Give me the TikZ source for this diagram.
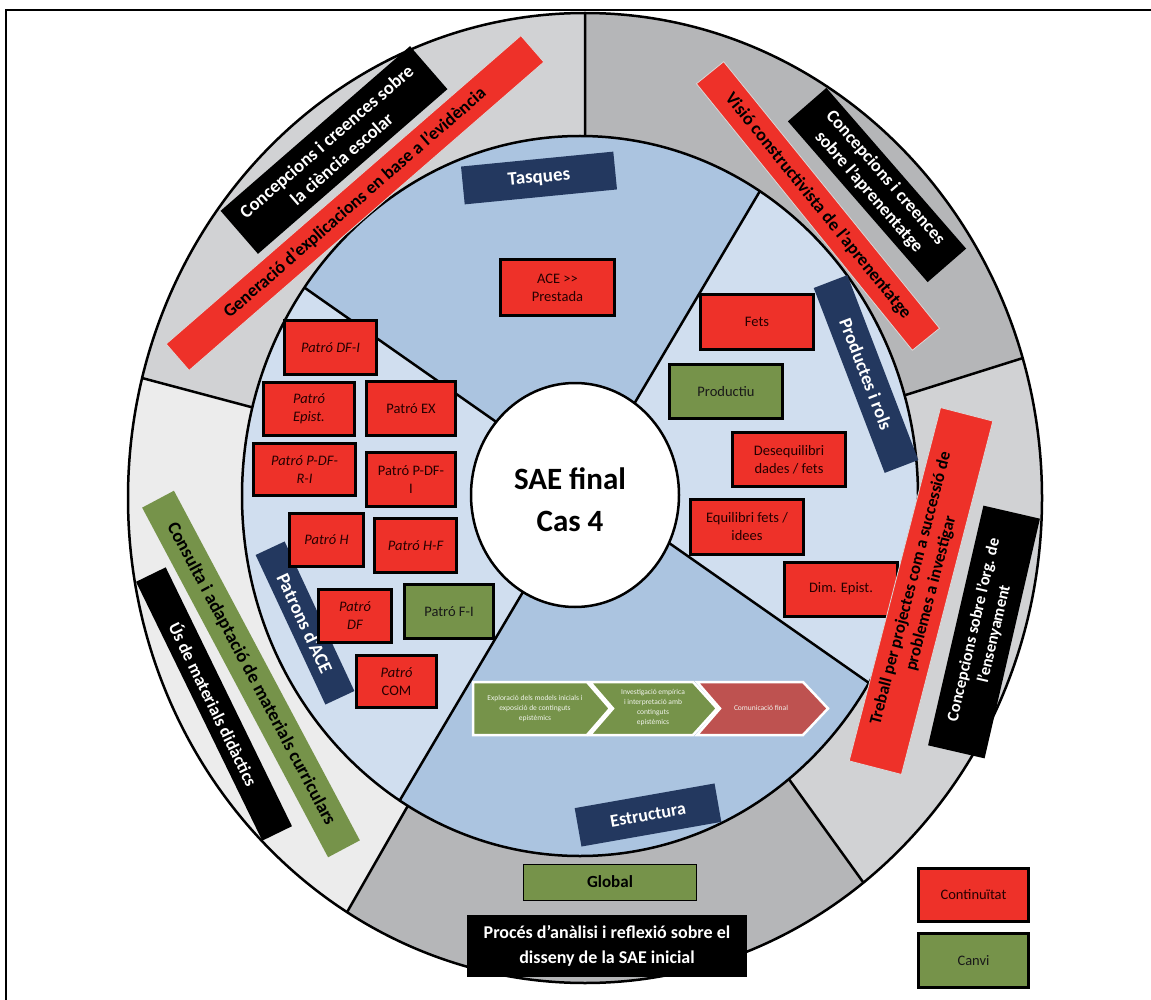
\documentclass[tikz,border=0pt]{standalone}
\usepackage{fontspec}
\setmainfont{Carlito}
\usetikzlibrary{shapes.geometric}
\definecolor{ringA}{HTML}{D1D2D4}
\definecolor{ringB}{HTML}{B5B6B8}
\definecolor{ringC}{HTML}{ECECEC}
\definecolor{discA}{HTML}{ABC4E0}
\definecolor{discB}{HTML}{D0DEEF}
\definecolor{cred}{HTML}{EE3129}
\definecolor{cgreen}{HTML}{76934A}
\definecolor{cnavy}{HTML}{23385F}
\definecolor{chevred}{HTML}{BE5250}
\newcommand\fsz[2]{\bfseries\fontsize{#1}{#2}\selectfont}
\begin{document}
\begin{tikzpicture}[x=1pt,y=-1pt,
  ringline/.style={line width=2.5pt, draw=black},
  ringbar/.style={inner sep=0pt, align=center, font=\fsz{18}{22}},
  blackbar/.style={ringbar, fill=black, text=white},
  redbar/.style={ringbar, fill=cred, text=black, draw=white!85!black, line width=0.8pt},
  greenbar/.style={ringbar, fill=cgreen, text=black},
  navybar/.style={ringbar, fill=cnavy, text=white},
  itembox/.style={draw=black, line width=3pt, fill=cred, text=black!85!red, align=center,
    inner sep=0pt, font=\fontsize{14.5}{18}\selectfont},
  itemgreen/.style={itembox, fill=cgreen, text=black!90},
  chevtext/.style={align=center, text=white!90!cgreen, inner sep=0pt,
    font=\fontsize{7.5}{10}\selectfont},
  chev/.style={draw=white, line width=2.5pt, line join=miter}
]
\useasboundingbox (0,0) rectangle (1151,1000);
\clip (0,0) rectangle (1151,1000);

% frame
\draw[line width=2pt] (6,1010) -- (6,10) -- (1160,10);

% outer ring: five sectors
\coordinate (C) at (585,496);
\begin{scope}
  \clip (585,498) ellipse [x radius=457, y radius=485];
  \fill[ringA] (C) -- (-301,260) -- (-301,-700) -- (585,-700) -- cycle;
  \fill[ringB] (C) -- (585,-700) -- (1800,-700) -- (1461,220) -- cycle;
  \fill[ringA] (C) -- (1461,220) -- (1800,220) -- (1800,1268) -- (1141,1268) -- cycle;
  \fill[ringB] (C) -- (1141,1268) -- (1141,1500) -- (115,1500) -- (115,1318) -- cycle;
  \fill[ringC] (C) -- (115,1318) -- (-400,1318) -- (-400,260) -- (-301,260) -- cycle;
  \draw[ringline] (C) -- (-301,260) (C) -- (585,-700) (C) -- (1461,220)
    (C) -- (1141,1268) (C) -- (115,1318);
\end{scope}
\draw[ringline] (585,498) ellipse [x radius=457, y radius=485];

% inner disc: four sectors split by two crossing lines
\coordinate (X) at (586.2,484.9);
\begin{scope}
  \clip (580,496) ellipse [x radius=338, y radius=360];
  \fill[discA] (X) -- (-259,-107) -- (1114,-408) -- cycle;
  \fill[discB] (X) -- (1114,-408) -- (1433,1078) -- cycle;
  \fill[discA] (X) -- (1433,1078) -- (43,1404) -- cycle;
  \fill[discB] (X) -- (43,1404) -- (-259,-107) -- cycle;
  \draw[ringline] (-259,-107) -- (1433,1078) (1114,-408) -- (43,1404);
\end{scope}
\draw[ringline] (580,496) ellipse [x radius=338, y radius=360];

% hub
\node[ellipse, draw, line width=2.5pt, fill=white, minimum width=208, minimum height=224,
  inner sep=0pt] (hub) at (575,495) {};
\node[font=\fsz{31}{42}, align=center] (hubtext) at (570,500) {SAE final\\Cas 4};

% top sector
\node[navybar, minimum width=153, minimum height=38, rotate=5.6, font=\fsz{19}{23}] (tasques) at (539,178) {Tasques};
\node[itembox, minimum width=114, minimum height=56] (ace) at (557.5,287.5) {ACE >\kern0pt>\\Prestada};

% right sector
\node[navybar, minimum width=198, minimum height=36, rotate=-69, font=\fsz{18.5}{22}] (prod) at (866,374) {Productes i rols};
\node[itembox, minimum width=113, minimum height=55] (fets) at (757,322) {Fets};
\node[itemgreen, minimum width=113, minimum height=54] (productiu) at (726,391.5) {Productiu};
\node[itembox, minimum width=113, minimum height=54] (deseq) at (789,459.5) {Desequilibri\\dades / fets};
\node[itembox, minimum width=113, minimum height=55] (equil) at (747,527) {Equilibri fets /\\idees};
\node[itembox, minimum width=113, minimum height=54] (dim) at (841,589) {Dim. Epist.};

% left sector
\node[navybar, minimum width=165, minimum height=32, rotate=-65, font=\fsz{19}{23}] (patrons) at (305,623) {Patrons d’ACE};
\node[itembox, minimum width=92, minimum height=54] (pdfi) at (330.5,347.5) {\itshape Patró DF-I};
\node[itembox, minimum width=91, minimum height=53] (pepist) at (309,409) {\itshape Patró\\\itshape Epist.};
\node[itembox, minimum width=89, minimum height=54] (pex) at (411,408.5) {Patró EX};
\node[itembox, minimum width=102, minimum height=52] (ppdfri) at (304.5,469.5) {\itshape Patró P-DF-\\\itshape R-I};
\node[itembox, minimum width=89, minimum height=54] (ppdfi) at (411,479.5) {Patró P-DF-\\I};
\node[itembox, minimum width=74, minimum height=53] (ph) at (326.5,540) {\itshape Patró H};
\node[itembox, minimum width=82, minimum height=54] (phf) at (415.5,545.5) {\itshape Patró H-F};
\node[itembox, minimum width=73, minimum height=53] (pdf) at (355,616) {\itshape Patró\\\itshape DF};
\node[itemgreen, minimum width=89, minimum height=54] (pfi) at (449,611.5) {Patró F-I};
\node[itembox, minimum width=80, minimum height=52] (pcom) at (396.5,681.5) {\itshape Patró\\COM};

% bottom sector: process chevrons
\filldraw[chev, fill=cgreen] (473,682) -- (587,682) -- (610,708.5) -- (587,735) -- (473,735) -- cycle;
\filldraw[chev, fill=cgreen] (590,682) -- (693,682) -- (717,708.5) -- (693,735) -- (590,735) -- (613,708.5) -- cycle;
\filldraw[chev, fill=chevred] (697,682) -- (803,682) -- (828,708.5) -- (803,735) -- (697,735) -- (720,708.5) -- cycle;
\node[chevtext] (ch1) at (535,708) {Exploració dels models inicials i\\exposició de continguts\\epistèmics};
\node[chevtext] (ch2) at (653,708) {Investigació empírica\\i interpretació amb\\continguts\\epistèmics};
\node[chevtext] (ch3) at (761,708) {Comunicació final};
\node[navybar, minimum width=142, minimum height=39, rotate=10, font=\fsz{18}{22}] (estructura) at (648,815) {Estructura};

% outer ring labels
\node[blackbar, minimum width=251, minimum height=57, rotate=41, font=\fsz{18.5}{23}] (ciencia) at (334,150)
  {Concepcions i creences sobre\\la ciència escolar};
\node[redbar, minimum width=470, minimum height=35, rotate=41] (generacio) at (355,203)
  {Generació d’explicacions en base a l’evidència};
\node[redbar, minimum width=343, minimum height=35, rotate=-51, font=\fsz{18}{22}] (visio) at (818,206)
  {Visió constructivista de l’aprenentatge};
\node[blackbar, minimum width=213, minimum height=51, rotate=-49] (aprenentatge) at (877,185)
  {Concepcions i creences\\sobre l’aprenentatge};
\node[redbar, minimum width=365, minimum height=54, rotate=75.5, font=\fsz{17}{21}] (treball) at (921,591)
  {Treball per projectes com a successió de\\problemes a investigar};
\node[blackbar, minimum width=246, minimum height=58, rotate=77, font=\fsz{16.5}{21}] (org) at (984,632)
  {Concepcions sobre l’org. de\\l’ensenyament};
\node[greenbar, minimum width=396, minimum height=36, rotate=-62, font=\fsz{18.5}{22}] (consulta) at (251,674)
  {Consulta i adaptació de materials curriculars};
\node[blackbar, minimum width=288, minimum height=33, rotate=-64, font=\fsz{17.5}{21}] (us) at (214,704)
  {Ús de materials didàctics};
\node[greenbar, draw=black, line width=1pt, minimum width=173, minimum height=36, font=\fsz{17}{21}] (global) at (610,882) {Global};
\node[blackbar, minimum width=280, minimum height=62, font=\fsz{18}{25}]
  (proces) at (607,946) {Procés d’anàlisi i reflexió sobre el\\disseny de la SAE inicial};

% legend
\node[itembox, minimum width=110, minimum height=53] (cont) at (973.5,895) {Continuïtat};
\node[itemgreen, minimum width=110, minimum height=54] (canvi) at (973.5,960.5) {Canvi};
\end{tikzpicture}
\end{document}
